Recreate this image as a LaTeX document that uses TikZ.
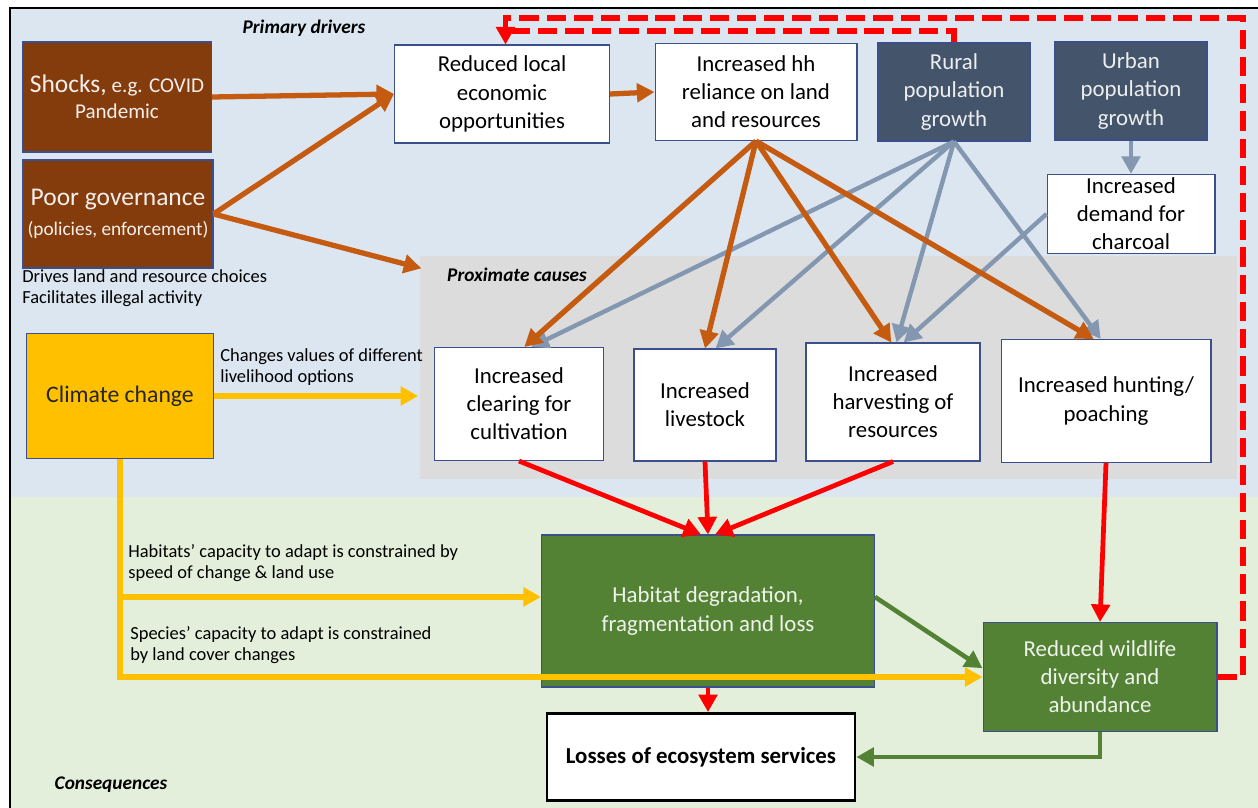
\documentclass[tikz,border=0pt]{standalone}
\usepackage{fontspec}
\setmainfont{Carlito}
\usetikzlibrary{arrows.meta}

\begin{document}
\begin{tikzpicture}[x=0.02cm, y=-0.02cm]
  \definecolor{bgblue}{HTML}{DCE6F1}
  \definecolor{bggreen}{HTML}{E3EFDA}
  \definecolor{bggrey}{HTML}{DCDCDC}
  \definecolor{drvbrown}{HTML}{843C0C}
  \definecolor{popslate}{HTML}{44546A}
  \definecolor{climgold}{HTML}{FFC000}
  \definecolor{habgreen}{HTML}{548235}
  \definecolor{linkorange}{HTML}{C55A11}
  \definecolor{linkgrey}{HTML}{8497B0}
  \definecolor{boxline}{HTML}{3A4F8C}
  \tikzstyle{every node}=[font=\fontsize{13}{16}\selectfont, align=center]
  \tikzstyle{box}=[draw=boxline, line width=0.6pt, fill=white, inner sep=2pt]
  \tikzstyle{driver}=[box, fill=drvbrown, text=white!92!drvbrown]
  \tikzstyle{pop}=[box, fill=popslate, text=white!90!popslate]
  \tikzstyle{impact}=[box, fill=habgreen, text=white!90!habgreen]
  \tikzstyle{note}=[font=\fontsize{10.5}{12.3}\selectfont, align=left, anchor=north west, inner sep=0pt]
  \tikzstyle{heading}=[font=\fontsize{11}{13}\selectfont\bfseries\itshape, inner sep=0pt]
  \tikzstyle{tip}=[-{Triangle[length=10pt,width=10.5pt]}]
  \tikzstyle{orangelink}=[tip, draw=linkorange, line width=3pt]
  \tikzstyle{greylink}=[tip, draw=linkgrey, line width=2.5pt]
  \tikzstyle{redlink}=[tip, draw=red, line width=2.7pt]
  \tikzstyle{goldlink}=[tip, draw=climgold, line width=3pt]
  \tikzstyle{greenlink}=[tip, draw=habgreen, line width=2.6pt]
  \tikzstyle{feedback}=[tip, draw=red, line width=3.2pt, dash pattern=on 11pt off 4.5pt]

  \useasboundingbox (0,0) rectangle (1258,808);

  % background bands
  \fill[bgblue] (10,8) rectangle (1258,497);
  \fill[bggreen] (10,497) rectangle (1258,808);
  \fill[bggrey] (420,256) rectangle (1237,479);
  \draw[line width=1.6pt] (10,808) -- (10,8) -- (1258,8);

  \node[heading](primary) at (304,28) {Primary drivers};
  \node[heading](prox) at (517,275) {Proximate causes};
  \node[heading](conseq) at (111,785) {Consequences};

  % primary drivers
  \node[driver, minimum width=3.78cm, minimum height=2.2cm, font=\fontsize{12}{15}\selectfont](shock) at (117,97)
    {{\fontsize{14.5}{17}\selectfont Shocks,} e.g. COVID\\Pandemic};
  \node[driver, minimum width=3.8cm, minimum height=2.16cm, font=\fontsize{14.5}{17}\selectfont](gov) at (118,214)
    {Poor governance\\{\fontsize{11}{13}\selectfont (policies, enforcement)}};
  \node[note](govnote) at (22,269) {Drives land and resource choices\\Facilitates illegal activity};
  \node[box, fill=climgold, text=black!85, minimum width=3.74cm, minimum height=2.5cm, font=\fontsize{13.5}{16}\selectfont](clim) at (120,396) {Climate change};

  \node[box, minimum width=4.3cm, minimum height=1.96cm](reduced) at (502,94) {Reduced local\\economic\\opportunities};
  \node[box, minimum width=4.04cm, minimum height=1.94cm](hh) at (756,92) {Increased hh\\reliance on land\\and resources};
  \node[pop, minimum width=3.04cm, minimum height=1.96cm](rural) at (954,92) {Rural\\population\\growth};
  \node[pop, minimum width=3.04cm, minimum height=1.96cm](urban) at (1131,91) {Urban\\population\\growth};
  \node[box, minimum width=3.36cm, minimum height=1.56cm](charcoal) at (1131,214) {Increased\\demand for\\charcoal};

  % proximate causes
  \node[box, minimum width=3.38cm, minimum height=2.26cm](clear) at (519,404) {Increased\\clearing for\\cultivation};
  \node[box, minimum width=2.84cm, minimum height=2.24cm](stock) at (705,405) {Increased\\livestock};
  \node[box, minimum width=3.48cm, minimum height=2.36cm](harv) at (893,402) {Increased\\harvesting of\\resources};
  \node[box, minimum width=4.2cm, minimum height=2.46cm](hunt) at (1106,401) {Increased hunting/\\poaching};

  % consequences
  \node[impact, minimum width=6.66cm, minimum height=3.04cm](hab) at (708,611) {Habitat degradation,\\fragmentation and loss};
  \node[impact, minimum width=4.68cm, minimum height=2.18cm](wild) at (1100,677) {Reduced wildlife\\diversity and\\abundance};
  \node[box, draw=black, line width=1.6pt, minimum width=6.16cm, minimum height=1.74cm, font=\fontsize{13}{16}\selectfont\bfseries](loss) at (701,757) {Losses of ecosystem services};

  \node[note](climnote) at (220,348) {Changes values of different\\livelihood options};
  \node[note](habnote) at (128,544) {Habitats’ capacity to adapt is constrained by\\speed of change \& land use};
  \node[note](spnote) at (130,626) {Species’ capacity to adapt is constrained\\by land cover changes};

  \coordinate (habin) at ([yshift=8pt]hab.west);
  \coordinate (merge) at (512,31);

  \draw[orangelink] (shock.east) -- (reduced.west);
  \draw[orangelink] (gov.east) -- (reduced.west);
  \draw[orangelink, shorten >=15pt] (gov.east) -- (prox.west);
  \draw[orangelink] (reduced.east) -- (hh.west);

  \draw[greylink] (rural.south) -- ([xshift=7pt]clear.north);
  \draw[greylink] (rural.south) -- ([xshift=6pt]stock.north);
  \draw[greylink] (rural.south) -- ([xshift=2pt]harv.north);
  \draw[greylink] (rural.south) -- ([xshift=-3pt]hunt.north);
  \draw[greylink] (urban.south) -- (charcoal.north);
  \draw[greylink] (charcoal.west) -- ([xshift=6pt]harv.north);

  \draw[orangelink] (hh.south) -- ([xshift=3pt]clear.north);
  \draw[orangelink] (hh.south) -- (stock.north);
  \draw[orangelink] (hh.south) -- ([xshift=-1pt]harv.north);
  \draw[orangelink] (hh.south) -- ([xshift=-7pt]hunt.north);

  \draw[goldlink, shorten >=9pt] (clim.east) -- (clim.east -| clear.west);
  \draw[goldlink] (clim.south) -- (clim.south |- wild.west) -- (wild.west);
  \draw[goldlink] (clim.south |- habin) -- (habin);

  \draw[redlink] (clear.south) -- ([xshift=-4pt]hab.north);
  \draw[redlink] (stock.south) -- (hab.north);
  \draw[redlink] (harv.south) -- ([xshift=4pt]hab.north);
  \draw[redlink] (hunt.south) -- (wild.north);
  \draw[redlink] (hab.south) -- (hab.south |- loss.north);

  \draw[greenlink] ([yshift=8pt]hab.east) -- ([yshift=5pt]wild.west);
  \draw[greenlink] (wild.south) |- (loss.east);

  \draw[feedback] (wild.east) -| (1243,18) -| ([xshift=2pt]reduced.north);
  \draw[feedback, -] (rural.north) |- (merge);
\end{tikzpicture}
\end{document}
